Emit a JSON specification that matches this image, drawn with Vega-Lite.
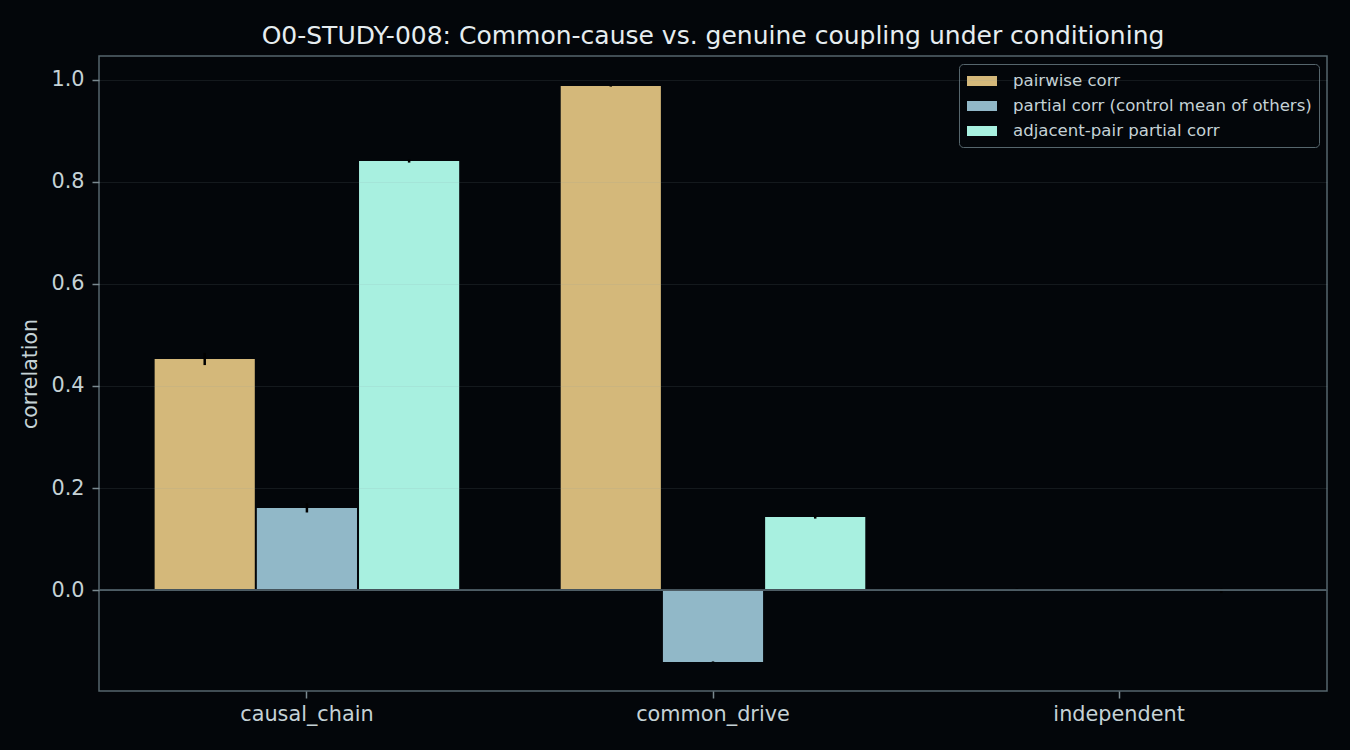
{
  "$schema": "https://vega.github.io/schema/vega-lite/v6.json",
  "background": "#03060a",
  "autosize": "none",
  "width": 1228,
  "height": 635,
  "padding": {"left": 99, "top": 56, "right": 23, "bottom": 59},
  "title": {
    "text": "O0-STUDY-008: Common-cause vs. genuine coupling under conditioning",
    "color": "#e6edf0",
    "font": "DejaVu Sans",
    "fontSize": 25,
    "fontWeight": "normal",
    "anchor": "middle",
    "baseline": "alphabetic",
    "offset": -13
  },
  "config": {
    "font": "DejaVu Sans",
    "view": {"stroke": "#56666d", "strokeWidth": 1.5},
    "axis": {
      "domain": false,
      "tickColor": "#7a8a90",
      "tickSize": 7,
      "tickWidth": 1.5,
      "labelColor": "#c5d2d6",
      "labelFontSize": 20.8,
      "labelFont": "DejaVu Sans",
      "titleColor": "#c5d2d6",
      "titleFontSize": 20.5,
      "titleFontWeight": "normal",
      "titleFont": "DejaVu Sans"
    }
  },
  "data": {
    "values": [
      {"group": "causal_chain", "series": "pairwise corr", "value": 0.453, "lo": 0.441, "hi": 0.465},
      {"group": "causal_chain", "series": "partial corr (control mean of others)", "value": 0.161, "lo": 0.152, "hi": 0.170},
      {"group": "causal_chain", "series": "adjacent-pair partial corr", "value": 0.841, "lo": 0.838, "hi": 0.844},
      {"group": "common_drive", "series": "pairwise corr", "value": 0.988, "lo": 0.987, "hi": 0.989},
      {"group": "common_drive", "series": "partial corr (control mean of others)", "value": -0.141, "lo": -0.142, "hi": -0.140},
      {"group": "common_drive", "series": "adjacent-pair partial corr", "value": 0.143, "lo": 0.140, "hi": 0.146},
      {"group": "independent", "series": "pairwise corr", "value": 0.001, "lo": -0.001, "hi": 0.003},
      {"group": "independent", "series": "partial corr (control mean of others)", "value": 0.000, "lo": -0.002, "hi": 0.002},
      {"group": "independent", "series": "adjacent-pair partial corr", "value": -0.001, "lo": -0.006, "hi": 0.003}
    ]
  },
  "encoding": {
    "x": {
      "field": "group",
      "type": "nominal",
      "sort": ["causal_chain", "common_drive", "independent"],
      "scale": {"paddingInner": 0.25, "paddingOuter": 0.137},
      "axis": {"title": null, "labelAngle": 0, "labelPadding": 6, "grid": false}
    },
    "xOffset": {
      "field": "series",
      "type": "nominal",
      "sort": ["pairwise corr", "partial corr (control mean of others)", "adjacent-pair partial corr"],
      "scale": {"paddingInner": 0.02, "paddingOuter": 0}
    }
  },
  "layer": [
    {
      "mark": {"type": "bar"},
      "encoding": {
        "y": {
          "field": "value",
          "type": "quantitative",
          "scale": {"domain": [-0.198, 1.047], "nice": false, "zero": false},
          "axis": {
            "title": "correlation",
            "values": [0, 0.2, 0.4, 0.6, 0.8, 1.0],
            "format": ".1f",
            "labelPadding": 8,
            "titlePadding": 10,
            "grid": true,
            "gridColor": "#8c9aa0",
            "gridOpacity": 0.13,
            "gridWidth": 1.2,
            "zindex": 1
          }
        },
        "color": {
          "field": "series",
          "type": "nominal",
          "scale": {
            "domain": ["pairwise corr", "partial corr (control mean of others)", "adjacent-pair partial corr"],
            "range": ["#d4b87a", "#91b8c8", "#a8f0e0"]
          },
          "legend": {
            "title": null,
            "orient": "top-right",
            "offset": 8,
            "padding": 7,
            "strokeColor": "#56666d",
            "fillColor": "#03060a",
            "cornerRadius": 4,
            "symbolType": "M-1.5,-0.5H1.5V0.5H-1.5Z",
            "symbolSize": 400,
            "symbolOffset": 6,
            "symbolStrokeWidth": 0,
            "symbolOpacity": 1,
            "labelOffset": 21,
            "labelFontSize": 16.6,
            "labelLimit": 500,
            "labelColor": "#c5d2d6",
            "labelFont": "DejaVu Sans",
            "rowPadding": 6
          }
        }
      }
    },
    {
      "mark": {"type": "rule", "color": "#000000", "strokeWidth": 2.5},
      "encoding": {
        "y": {"field": "lo", "type": "quantitative"},
        "y2": {"field": "hi"}
      }
    },
    {
      "mark": {"type": "rule", "color": "#46555d", "strokeWidth": 1.5},
      "encoding": {
        "y": {"datum": 0, "type": "quantitative"},
        "x": {"value": 0},
        "x2": {"value": 1228},
        "xOffset": {"value": 0}
      }
    }
  ]
}
